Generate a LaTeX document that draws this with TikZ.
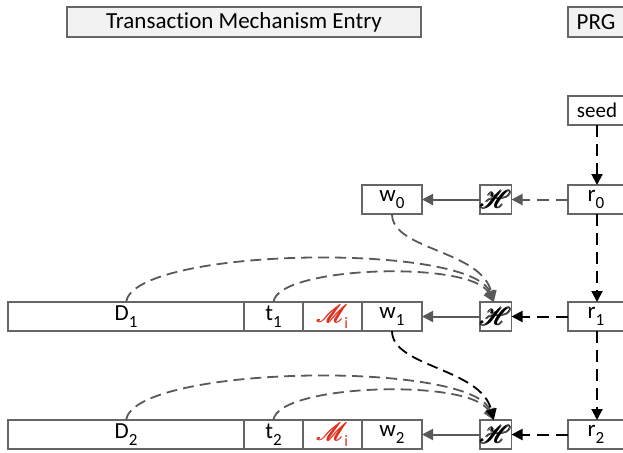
\documentclass[tikz,border=0pt]{standalone}
\usepackage{fontspec}
\setmainfont[Ligatures=NoCommon]{Carlito}
\usepackage{amsmath}
\usepackage{mathrsfs}
\usetikzlibrary{arrows.meta}

\definecolor{boxgray}{HTML}{666666}
\definecolor{linegray}{HTML}{595959}
\definecolor{headfill}{HTML}{F2F2F2}
\definecolor{mred}{HTML}{E0301E}

\newcommand{\lab}[2]{#1\raisebox{-0.32em}{\fontsize{17}{17}\selectfont #2}}
\newcommand{\hashsym}{\fontsize{25}{25}\selectfont$\pmb{\mathscr{H}}$}
\newcommand{\msgsym}{\textcolor{mred}{\fontsize{26}{26}\selectfont$\pmb{\mathscr{M}}$\hspace{-3.5pt}\raisebox{-0.22em}{\fontsize{16}{16}\selectfont i}}}

\tikzset{
  cell/.style={draw=boxgray, line width=1.2pt, inner sep=0pt, outer sep=0pt,
    anchor=north west, minimum height=29pt, font=\fontsize{23}{23}\selectfont},
  head/.style={cell, fill=headfill, minimum height=30pt, font=\fontsize{23}{23}\selectfont},
  hashbox/.style={cell, minimum width=30pt},
  tip/.style={-{Triangle[length=11pt,width=11pt]}},
  solidg/.style={tip, draw=linegray, line width=2pt},
  dashg/.style={tip, draw=linegray, line width=2pt, dash pattern=on 12pt off 7pt},
  dashk/.style={tip, draw=black, line width=2pt, dash pattern=on 12pt off 7pt},
  curveg/.style={tip, draw=linegray, line width=1.8pt, dash pattern=on 11pt off 6pt},
  curvek/.style={tip, draw=black, line width=1.8pt, dash pattern=on 11pt off 6pt},
}

\begin{document}
\begin{tikzpicture}[x=1pt, y=-1pt]
\useasboundingbox (0,0) rectangle (623,452);
\begin{scope}
\clip (0,0) rectangle (623,452);

% headers
\node[head, minimum width=354pt] (entry) at (67,7) {Transaction Mechanism Entry};
\node[head, minimum width=72pt] (prg) at (568,7) {\hspace*{-16pt}PRG};

% PRG column
\node[cell, minimum width=72pt, font=\fontsize{21}{21}\selectfont] (seed) at (568,96) {\hspace*{-14pt}seed};
\node[cell, minimum width=72pt] (r0) at (568,185) {\hspace*{-16pt}\lab{r}{0}};
\node[cell, minimum width=72pt] (r1) at (568,302) {\hspace*{-16pt}\lab{r}{1}};
\node[cell, minimum width=72pt] (r2) at (568,420) {\hspace*{-16pt}\lab{r}{2}};

% hash boxes
\node[hashbox] (h0) at (480,185) {\hashsym};
\node[hashbox] (h1) at (480,302) {\hashsym};
\node[hashbox] (h2) at (480,420) {\hashsym};

% initial word
\node[cell, minimum width=60pt] (w0) at (362,185) {\lab{w}{0}};

% entry 1
\node[cell, minimum width=236pt] (d1) at (8,302) {\lab{D}{1}};
\node[cell, minimum width=59pt] (t1) at (244,302) {\lab{t}{1}};
\node[cell, minimum width=59pt] (m1) at (303,302) {\msgsym};
\node[cell, minimum width=60pt] (w1) at (362,302) {\lab{w}{1}};

% entry 2
\node[cell, minimum width=236pt] (d2) at (8,420) {\lab{D}{2}};
\node[cell, minimum width=59pt] (t2) at (244,420) {\lab{t}{2}};
\node[cell, minimum width=59pt] (m2) at (303,420) {\msgsym};
\node[cell, minimum width=60pt] (w2) at (362,420) {\lab{w}{2}};
\end{scope}

% generator chain
\coordinate (pc) at (597,0);
\draw[dashk] (seed.south -| pc) -- (r0.north -| pc);
\draw[dashk] (r0.south -| pc) -- (r1.north -| pc);
\draw[dashk] (r1.south -| pc) -- (r2.north -| pc);

% random values into the hashes
\draw[dashg] (r0.west) -- (h0.east);
\draw[dashk] (r1.west) -- (h1.east);
\draw[dashk] (r2.west) -- (h2.east);

% hash outputs
\draw[solidg] (h0.west) -- (w0.east);
\draw[solidg] (h1.west) -- (w1.east);
\draw[solidg] (h2.west) -- (w2.east);

% hash inputs, entry 1
\coordinate (h1in) at ([xshift=-2pt]h1.north);
\draw[curveg] (d1.north) .. controls +(9,-55) and +(-23,-60) .. (h1in);
\draw[curveg] (t1.north) .. controls +(4,-36) and +(-23,-42) .. (h1in);
\draw[curveg] (w0.south) .. controls +(0,36) and +(-13,-52) .. (h1in);

% hash inputs, entry 2
\coordinate (h2in) at ([xshift=-2pt]h2.north);
\draw[curveg] (d2.north) .. controls +(9,-55) and +(-23,-60) .. (h2in);
\draw[curveg] (t2.north) .. controls +(4,-36) and +(-23,-42) .. (h2in);
\draw[curvek] (w1.south) .. controls +(0,36) and +(-13,-52) .. (h2in);
\end{tikzpicture}
\end{document}
